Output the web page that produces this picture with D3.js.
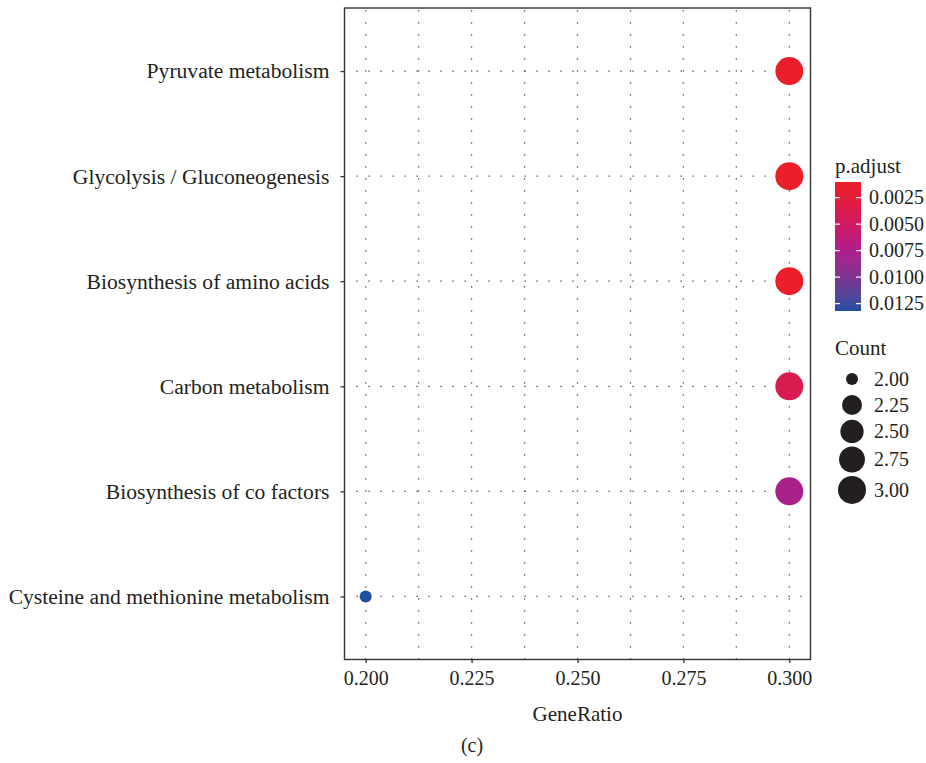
<!DOCTYPE html>
<html>
<head>
<meta charset="utf-8">
<script src="https://cdn.jsdelivr.net/npm/d3@7"></script>
<style>
  body { margin: 0; background: #fff; }
  text { font-family: "Liberation Serif", "DejaVu Serif", serif; fill: #231f20; }
</style>
</head>
<body>
<svg id="chart" width="926" height="763"></svg>
<script>
// data
var pathways = ["Pyruvate metabolism", "Glycolysis / Gluconeogenesis", "Biosynthesis of amino acids",
                "Carbon metabolism", "Biosynthesis of co factors", "Cysteine and methionine metabolism"];
var geneRatio = [0.3, 0.3, 0.3, 0.3, 0.3, 0.2];
var counts = [3, 3, 3, 3, 3, 2];
var pAdjust = [0.00102, 0.00102, 0.00102, 0.0037, 0.0078, 0.0132];

var xTicks = [0.200, 0.225, 0.250, 0.275, 0.300];
var xMinor = [0.2125, 0.2375, 0.2625, 0.2875];
var pTicks = [0.0025, 0.0050, 0.0075, 0.0100, 0.0125];
var countTicks = [2.00, 2.25, 2.50, 2.75, 3.00];

var svg = d3.select("#chart");

var pLeft = 344.5, pRight = 810.5, pTop = 8, pBottom = 659.5;

var x = d3.scaleLinear().domain([0.195, 0.305]).range([pLeft, pRight]);
var y = d3.scalePoint().domain(pathways).range([pTop, pBottom]).padding(0.6);

var pMin = d3.min(pAdjust), pMax = d3.max(pAdjust);
// colour ramp red -> blue as printed
var color = d3.scaleLinear()
  .domain([pMin, 0.0025, 0.005, 0.0075, 0.01, 0.0125, pMax])
  .range(["#ec1e2a", "#e41c3a", "#cf1a66", "#b01d8b", "#7d3391", "#3a4a9e", "#2050a0"])
  .interpolate(d3.interpolateLab);

var cMin = d3.min(counts), cMax = d3.max(counts);
var rScale = d3.scaleLinear().domain([0, 1]).range([6, 14]);
function radius(c) { return rScale(Math.sqrt((c - cMin) / (cMax - cMin))); }

// dotted grid
var grid = svg.append("g").attr("stroke", "#444").attr("stroke-width", 1.3)
  .attr("stroke-dasharray", "1.3 10.7");
grid.selectAll("line.v").data(xTicks.concat(xMinor)).enter().append("line")
  .attr("x1", function(d) { return x(d); }).attr("x2", function(d) { return x(d); })
  .attr("y1", pBottom).attr("y2", pTop);
grid.selectAll("line.h").data(pathways).enter().append("line")
  .attr("x1", pLeft + 12).attr("x2", pRight)
  .attr("y1", function(d) { return y(d); }).attr("y2", function(d) { return y(d); });

// points
svg.append("g").selectAll("circle").data(pathways).enter().append("circle")
  .attr("cx", function(d, i) { return x(geneRatio[i]); })
  .attr("cy", function(d) { return y(d); })
  .attr("r", function(d, i) { return radius(counts[i]); })
  .attr("fill", function(d, i) { return color(pAdjust[i]); });

// panel border
svg.append("rect").attr("x", pLeft).attr("y", pTop)
  .attr("width", pRight - pLeft).attr("height", pBottom - pTop)
  .attr("fill", "none").attr("stroke", "#333").attr("stroke-width", 1.4);

// x axis
var xAxis = svg.append("g").attr("transform", "translate(0," + pBottom + ")")
  .call(d3.axisBottom(x).tickValues(xTicks).tickSize(3.5).tickPadding(8)
    .tickFormat(d3.format(".3f")));
xAxis.select(".domain").remove();
xAxis.selectAll("line").attr("stroke", "#333").attr("stroke-width", 1.3);
xAxis.selectAll("text").attr("font-size", 20).attr("fill", "#231f20")
  .attr("font-family", "Liberation Serif");

// y axis
var yAxis = svg.append("g").attr("transform", "translate(" + pLeft + ",0)")
  .call(d3.axisLeft(y).tickSize(4).tickPadding(11));
yAxis.select(".domain").remove();
yAxis.selectAll("line").attr("stroke", "#333").attr("stroke-width", 1.3);
yAxis.selectAll("text").attr("font-size", 21.6).attr("fill", "#231f20")
  .attr("font-family", "Liberation Serif");

svg.append("text").attr("x", (pLeft + pRight) / 2).attr("y", 721)
  .attr("text-anchor", "middle").attr("font-size", 21).text("GeneRatio");
svg.append("text").attr("x", 472).attr("y", 752)
  .attr("text-anchor", "middle").attr("font-size", 20).text("(c)");

// p.adjust colour bar
var barX = 835, barW = 26, barTop = 182, barBottom = 311;
svg.append("text").attr("x", barX).attr("y", 173).attr("font-size", 21).text("p.adjust");

var defs = svg.append("defs");
var grad = defs.append("linearGradient").attr("id", "pgrad")
  .attr("x1", 0).attr("y1", 0).attr("x2", 0).attr("y2", 1);
var nStops = 20;
grad.selectAll("stop").data(d3.range(nStops + 1)).enter().append("stop")
  .attr("offset", function(d) { return d / nStops; })
  .attr("stop-color", function(d) { return color(pMin + (pMax - pMin) * d / nStops); });

var barY = d3.scaleLinear().domain([pMin, pMax]).range([barTop, barBottom]);
svg.append("rect").attr("x", barX).attr("y", barTop).attr("width", barW)
  .attr("height", barBottom - barTop).attr("fill", "url(#pgrad)");

var bt = svg.append("g");
bt.selectAll("line.l").data(pTicks).enter().append("line")
  .attr("x1", barX).attr("x2", barX + 5)
  .attr("y1", function(d) { return barY(d); }).attr("y2", function(d) { return barY(d); })
  .attr("stroke", "#fff").attr("stroke-width", 1.2);
bt.selectAll("line.r").data(pTicks).enter().append("line")
  .attr("x1", barX + barW - 5).attr("x2", barX + barW)
  .attr("y1", function(d) { return barY(d); }).attr("y2", function(d) { return barY(d); })
  .attr("stroke", "#fff").attr("stroke-width", 1.2);
bt.selectAll("text").data(pTicks).enter().append("text")
  .attr("x", 869).attr("y", function(d) { return barY(d); })
  .attr("dy", "0.34em").attr("font-size", 20)
  .text(function(d) { return d3.format(".4f")(d); });

// Count legend
svg.append("text").attr("x", barX).attr("y", 355).attr("font-size", 21).text("Count");
var keyY = [], cy = 366;
countTicks.forEach(function(c) {
  var h = Math.max(26, 2 * radius(c) + 3.5);
  keyY.push(cy + h / 2);
  cy += h;
});
var cl = svg.append("g");
cl.selectAll("circle").data(countTicks).enter().append("circle")
  .attr("cx", 852).attr("cy", function(d, i) { return keyY[i]; })
  .attr("r", function(d) { return radius(d); })
  .attr("fill", "#231f20");
cl.selectAll("text").data(countTicks).enter().append("text")
  .attr("x", 874).attr("y", function(d, i) { return keyY[i]; })
  .attr("dy", "0.34em").attr("font-size", 20)
  .text(function(d) { return d3.format(".2f")(d); });
</script>
</body>
</html>
